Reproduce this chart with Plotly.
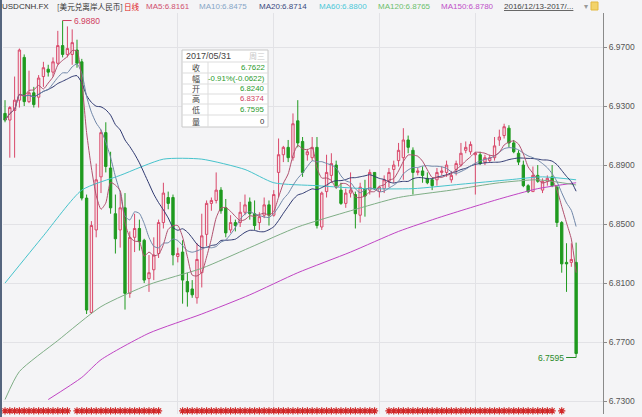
import plotly.graph_objects as go
import pandas as pd

# ---------------- data ----------------
opens = [6.925, 6.9205, 6.927, 6.934, 6.963, 6.933, 6.939, 6.936, 6.950, 6.955,
         6.953, 6.959, 6.971, 6.965, 6.965, 6.968, 6.960, 6.8676, 6.790, 6.846,
         6.882, 6.912, 6.888, 6.857, 6.846, 6.861, 6.803, 6.841, 6.847, 6.839,
         6.813, 6.819, 6.830, 6.851, 6.868, 6.868, 6.828, 6.831, 6.811, 6.806,
         6.800, 6.817, 6.843, 6.864, 6.866, 6.873, 6.861, 6.846, 6.851, 6.851,
         6.858, 6.865, 6.857, 6.851, 6.856, 6.863, 6.856, 6.885, 6.897, 6.902,
         6.895, 6.920, 6.906, 6.897, 6.895, 6.902, 6.848, 6.872, 6.883, 6.890,
         6.873, 6.864, 6.871, 6.870, 6.856, 6.874, 6.873, 6.885, 6.872, 6.874,
         6.879, 6.887, 6.893, 6.895, 6.907, 6.900, 6.885, 6.886, 6.881, 6.880,
         6.880, 6.885, 6.885, 6.880, 6.887, 6.890, 6.900, 6.899, 6.897, 6.897,
         6.892, 6.893, 6.895, 6.907, 6.910, 6.915, 6.905, 6.898, 6.890, 6.876,
         6.872, 6.883, 6.873, 6.879, 6.882, 6.875, 6.851, 6.824, 6.824, 6.8240]
highs = [6.934, 6.930, 6.950, 6.969, 6.965, 6.954, 6.943, 6.951, 6.960, 6.958,
         6.963, 6.981, 6.988, 6.984, 6.982, 6.975, 6.962, 6.870, 6.852, 6.891,
         6.914, 6.919, 6.899, 6.870, 6.871, 6.871, 6.845, 6.857, 6.853, 6.840,
         6.829, 6.841, 6.853, 6.878, 6.872, 6.870, 6.834, 6.839, 6.817, 6.812,
         6.837, 6.857, 6.866, 6.868, 6.885, 6.875, 6.867, 6.856, 6.853, 6.865,
         6.870, 6.868, 6.866, 6.858, 6.868, 6.866, 6.873, 6.908, 6.903, 6.907,
         6.925, 6.934, 6.909, 6.901, 6.909, 6.909, 6.872, 6.897, 6.898, 6.893,
         6.878, 6.874, 6.885, 6.872, 6.878, 6.880, 6.887, 6.885, 6.876, 6.883,
         6.888, 6.893, 6.905, 6.915, 6.910, 6.902, 6.888, 6.889, 6.885, 6.881,
         6.888, 6.889, 6.893, 6.886, 6.893, 6.905, 6.906, 6.906, 6.899, 6.899,
         6.897, 6.897, 6.909, 6.914, 6.918, 6.917, 6.907, 6.900, 6.893, 6.877,
         6.889, 6.890, 6.881, 6.883, 6.890, 6.876, 6.852, 6.837, 6.837, 6.8374]
lows = [6.919, 6.895, 6.895, 6.929, 6.930, 6.932, 6.929, 6.929, 6.943, 6.950,
        6.950, 6.958, 6.963, 6.963, 6.958, 6.956, 6.866, 6.789, 6.789, 6.841,
        6.871, 6.885, 6.857, 6.830, 6.834, 6.792, 6.800, 6.831, 6.832, 6.810,
        6.804, 6.812, 6.827, 6.847, 6.860, 6.822, 6.824, 6.796, 6.794, 6.800,
        6.796, 6.807, 6.835, 6.859, 6.864, 6.857, 6.841, 6.844, 6.845, 6.848,
        6.856, 6.853, 6.846, 6.846, 6.854, 6.849, 6.855, 6.868, 6.892, 6.892,
        6.893, 6.902, 6.882, 6.893, 6.893, 6.847, 6.846, 6.868, 6.878, 6.874,
        6.863, 6.861, 6.868, 6.847, 6.851, 6.855, 6.870, 6.873, 6.868, 6.871,
        6.875, 6.878, 6.889, 6.880, 6.898, 6.870, 6.883, 6.878, 6.877, 6.873,
        6.876, 6.883, 6.882, 6.878, 6.883, 6.889, 6.898, 6.897, 6.870, 6.890,
        6.890, 6.892, 6.893, 6.903, 6.908, 6.902, 6.898, 6.890, 6.875, 6.871,
        6.872, 6.878, 6.871, 6.876, 6.875, 6.848, 6.817, 6.804, 6.821, 6.7595]
closes = [6.9205, 6.929, 6.934, 6.968, 6.933, 6.939, 6.931, 6.949, 6.956, 6.953,
          6.960, 6.971, 6.965, 6.969, 6.973, 6.959, 6.8676, 6.7917, 6.849, 6.880,
          6.912, 6.889, 6.861, 6.840, 6.861, 6.803, 6.841, 6.847, 6.838, 6.812,
          6.817, 6.829, 6.851, 6.871, 6.864, 6.829, 6.830, 6.812, 6.804, 6.802,
          6.826, 6.842, 6.864, 6.866, 6.873, 6.859, 6.844, 6.851, 6.849, 6.858,
          6.863, 6.857, 6.849, 6.855, 6.863, 6.856, 6.870, 6.897, 6.902, 6.895,
          6.918, 6.905, 6.885, 6.899, 6.902, 6.849, 6.871, 6.885, 6.891, 6.876,
          6.864, 6.871, 6.873, 6.857, 6.875, 6.869, 6.885, 6.874, 6.875, 6.880,
          6.885, 6.890, 6.900, 6.907, 6.902, 6.885, 6.886, 6.883, 6.878, 6.876,
          6.885, 6.886, 6.890, 6.883, 6.891, 6.898, 6.902, 6.904, 6.898, 6.891,
          6.895, 6.895, 6.903, 6.909, 6.916, 6.905, 6.899, 6.892, 6.876, 6.872,
          6.883, 6.879, 6.879, 6.881, 6.876, 6.851, 6.823, 6.823, 6.826, 6.7622]

# long moving averages (index, value)
ma60_idx = [0, 8, 16, 24, 33, 41, 50, 56, 65, 75, 85, 95, 105, 112, 119]
ma60_val = [6.810, 6.842, 6.873, 6.883, 6.894, 6.894, 6.887, 6.878, 6.876, 6.874,
            6.874, 6.877, 6.880, 6.882, 6.880]
ma120_idx = [0, 3, 11, 20, 30, 41, 51, 61, 72, 82, 93, 103, 111, 119]
ma120_val = [6.731, 6.750, 6.771, 6.794, 6.809, 6.820, 6.834, 6.848, 6.859, 6.868,
             6.873, 6.878, 6.880, 6.8765]
ma150_idx = [9, 16, 20, 30, 41, 51, 61, 72, 82, 91, 103, 111, 119]
ma150_val = [6.731, 6.746, 6.758, 6.776, 6.789, 6.802, 6.817, 6.831, 6.845, 6.855,
             6.867, 6.874, 6.878]

ytick_vals = [6.73, 6.77, 6.81, 6.85, 6.89, 6.93, 6.97]
month_start_idx = [36, 56, 78, 98]
star_segments = [(0, 13), (15, 32), (37, 77), (80, 114), (116, 116)]

header_parts = ["USDCNH.FX", "[美元兑离岸人民币]", "日线", "MA5:6.8161", "MA10:6.8475",
                "MA20:6.8714", "MA60:6.8800", "MA120:6.8765", "MA150:6.8780",
                "<u>2016/12/13-2017/...</u>", "▾"]
tip_date = "2017/05/31"
tip_labels = ["收", "幅", "开", "高", "低", "量"]
tip_values = ["6.7622", "-0.91%(-0.0622)", "6.8240", "6.8374", "6.7595", "0"]
max_label = "6.9880"
min_label = "6.7595"

# ---------------- styling ----------------
W, H = 642, 417
ML, MR, MT, MB = 3, 39, 13, 3
PW, PH = W - ML - MR, H - MT - MB
BG = "#f4f4f6"
NUMFONT = "Liberation Sans, Arial, Noto Sans CJK SC"
CJK = "Noto Sans CJK SC"

def px(x):
    return (x - ML) / PW

def py(y):
    return (H - MB - y) / PH

idx = list(range(len(closes)))
cs = pd.Series(closes)
ma5 = cs.rolling(5, min_periods=1).mean()
ma10 = cs.rolling(10, min_periods=1).mean()
ma20 = cs.rolling(20, min_periods=1).mean()

fig = go.Figure()
fig.add_trace(go.Candlestick(
    x=idx, open=opens, high=highs, low=lows, close=closes,
    increasing=dict(line=dict(color="#d9486a", width=1), fillcolor="#f6e4ea"),
    decreasing=dict(line=dict(color="#1f9a1f", width=1), fillcolor="#1f9a1f"),
    whiskerwidth=0, hoverinfo="skip", showlegend=False))

line_specs = [
    (ma150_idx, ma150_val, "#c044c4"),
    (ma120_idx, ma120_val, "#7fae86"),
    (ma60_idx, ma60_val, "#46c3cc"),
    (idx, list(ma20), "#2e3870"),
    (idx, list(ma10), "#6f86a8"),
    (idx, list(ma5), "#b0506e"),
]
for xs, ys, col in line_specs:
    fig.add_trace(go.Scatter(x=xs, y=ys, mode="lines",
                             line=dict(color=col, width=1, shape="spline", smoothing=0.6),
                             hoverinfo="skip", showlegend=False))

star_idx = []
for a, b in star_segments:
    star_idx.extend(range(a, b + 1))
fig.add_trace(go.Scatter(x=star_idx, y=[6.7233] * len(star_idx), mode="markers",
                         marker=dict(symbol="asterisk-open", size=6, color="#d02828",
                                     line=dict(color="#d02828", width=1.2)),
                         hoverinfo="skip", showlegend=False, cliponaxis=False))

ann = []
# header
header_x = [1, 56, 123, 145, 198, 258, 318, 377, 440, 503, 583]
header_col = ["#333333", "#333333", "#e02020", "#d0506e", "#86a6c6", "#3a4a80", "#4cc8d8",
              "#6cbf6c", "#c050c8", "#444444", "#999999"]
header_font = [NUMFONT, CJK, CJK] + [NUMFONT] * 8
header_size = [8, 7.6, 7.6] + [8] * 8
for t, x, c, f, s in zip(header_parts, header_x, header_col, header_font, header_size):
    ann.append(dict(text=t, x=px(x), y=py(6), xref="paper", yref="paper", xanchor="left",
                    yanchor="middle", showarrow=False, borderpad=0,
                    font=dict(family=f, size=s, color=c)))

# tooltip
tip_x0, tip_x1, tip_y0, tip_y1 = 182, 268, 50, 127
row_lines = [62, 73, 84, 94, 104, 115]
row_centers = [67.5, 78.5, 89, 99, 109.5, 121]
tip_cols = ["#2a9a2a", "#2a9a2a", "#2a9a2a", "#d0405e", "#2a9a2a", "#333333"]
shapes = [dict(type="rect", xref="paper", yref="paper", x0=px(tip_x0), x1=px(tip_x1),
               y0=py(tip_y1), y1=py(tip_y0), fillcolor="#ffffff",
               line=dict(color="#c8c8c8", width=1), layer="above")]
for ly in row_lines:
    shapes.append(dict(type="line", xref="paper", yref="paper", x0=px(tip_x0), x1=px(tip_x1),
                       y0=py(ly), y1=py(ly), line=dict(color="#dddddd", width=1), layer="above"))
shapes.append(dict(type="line", xref="paper", yref="paper", x0=px(208), x1=px(208),
                   y0=py(tip_y1), y1=py(62), line=dict(color="#dddddd", width=1), layer="above"))
ann.append(dict(text=tip_date, x=px(185), y=py(56), xref="paper", yref="paper", xanchor="left",
                yanchor="middle", showarrow=False, borderpad=0,
                font=dict(family=NUMFONT, size=9, color="#444444")))
ann.append(dict(text="周三", x=px(266), y=py(56), xref="paper", yref="paper", xanchor="right",
                yanchor="middle", showarrow=False, borderpad=0,
                font=dict(family=CJK, size=8, color="#c8c8c8")))
for lab, val, cy, col in zip(tip_labels, tip_values, row_centers, tip_cols):
    ann.append(dict(text=lab, x=px(196), y=py(cy), xref="paper", yref="paper", xanchor="center",
                    yanchor="middle", showarrow=False, borderpad=0,
                    font=dict(family=CJK, size=8, color="#444444")))
    ann.append(dict(text=val, x=px(266), y=py(cy), xref="paper", yref="paper", xanchor="right",
                    yanchor="middle", showarrow=False, borderpad=0,
                    font=dict(family=NUMFONT, size=7.8, color=col)))

# extreme labels
imax = highs.index(max(highs))
imin = lows.index(min(lows))
ann.append(dict(text=max_label, x=imax, y=highs[imax], xref="x", yref="y", showarrow=True, arrowhead=0,
                arrowwidth=1, arrowcolor="#d0405e", ax=9, ay=0, xanchor="left", yanchor="middle",
                font=dict(family=NUMFONT, size=8.5, color="#d0405e")))
ann.append(dict(text=min_label, x=imin, y=lows[imin], xref="x", yref="y", showarrow=True, arrowhead=0,
                arrowwidth=1, arrowcolor="#2a8a2a", ax=-10, ay=0, xanchor="right", yanchor="middle",
                font=dict(family=NUMFONT, size=8.5, color="#2a8a2a")))

# left border and small icon
shapes.append(dict(type="line", xref="paper", yref="paper", x0=px(1), x1=px(1), y0=py(H), y1=py(0),
                   line=dict(color="#55657e", width=2)))
shapes.append(dict(type="rect", xref="paper", yref="paper", x0=px(591), x1=px(598), y0=py(10), y1=py(2),
                   fillcolor="#f3d36a", line=dict(color="#e2b840", width=1)))

fig.update_layout(
    width=W, height=H, margin=dict(l=ML, r=MR, t=MT, b=MB),
    paper_bgcolor=BG, plot_bgcolor=BG, showlegend=False,
    annotations=ann, shapes=shapes,
    xaxis=dict(range=[-0.42, 124.6], tickvals=month_start_idx, showticklabels=False, ticks="",
               showgrid=True, gridcolor="#e2e2e6", zeroline=False, showline=False,
               rangeslider=dict(visible=False), fixedrange=True, automargin=False),
    yaxis=dict(side="right", range=[6.7212, 6.9931], tickvals=ytick_vals,
               ticktext=["%.4f" % v for v in ytick_vals], showgrid=True, gridcolor="#e2e2e6",
               showline=True, linecolor="#8a8a8a", ticks="outside", ticklen=3, tickcolor="#8a8a8a",
               tickfont=dict(family=NUMFONT, size=8.5, color="#555555"), zeroline=False,
               fixedrange=True, automargin=False),
)

fig.write_html("out.html", config={"displayModeBar": False, "staticPlot": True},
               post_script="document.body.style.margin='0px';document.body.style.padding='0px';"
                           "document.body.style.overflow='hidden';")
